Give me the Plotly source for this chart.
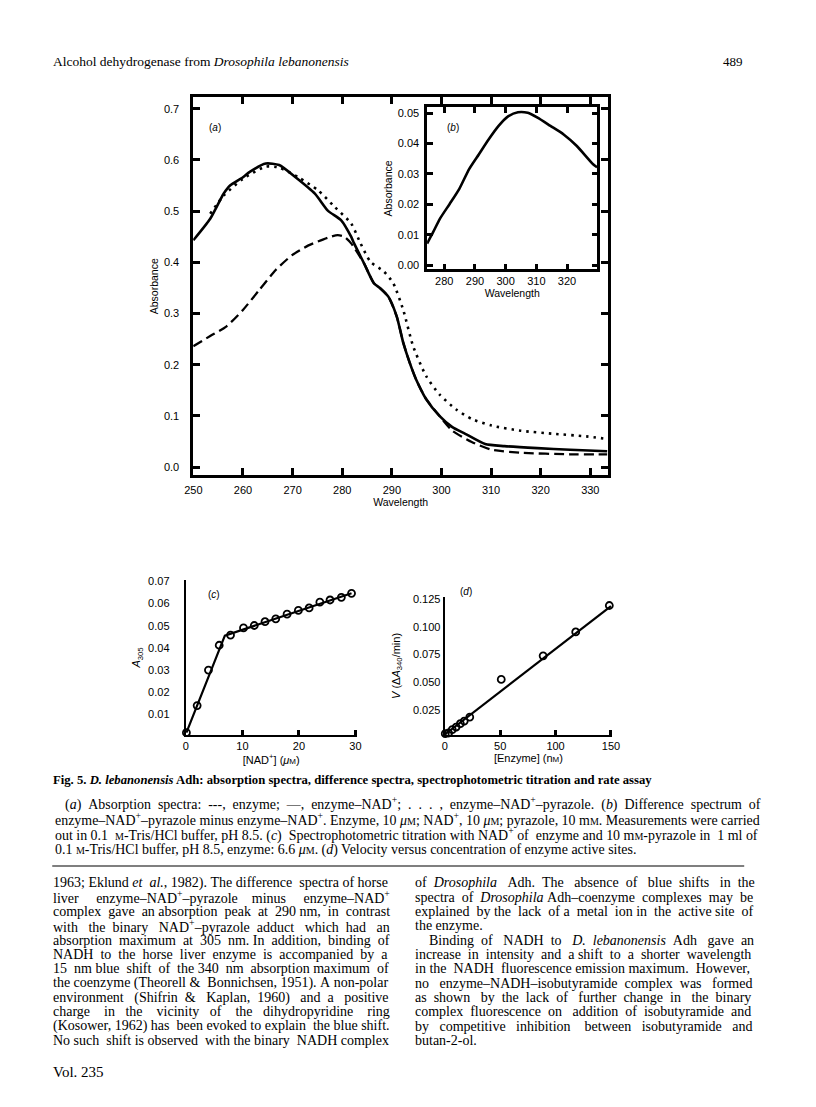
import re
import plotly.graph_objects as go

# ---------------- data ----------------
wl_enzyme_nad = [250, 253.4, 256.1, 257.4, 260, 261.3, 264.6, 267.3, 270.6, 274.5, 277.1, 279.8, 281.8,
                 282.4, 284.4, 286.4, 287.7, 289.3, 291, 292.3, 293.6, 294.9, 296.9, 299.6, 302.2,
                 304.8, 308.8, 312.7, 319.3, 325.9, 333.4]
abs_enzyme_nad = [0.443, 0.485, 0.534, 0.550, 0.566, 0.576, 0.593, 0.590, 0.566, 0.534, 0.501, 0.482, 0.45,
                  0.437, 0.398, 0.359, 0.349, 0.333, 0.294, 0.243, 0.204, 0.171, 0.133, 0.100, 0.078,
                  0.065, 0.045, 0.041, 0.037, 0.034, 0.031]

wl_pyrazole = [253.4, 256.1, 260.0, 264.6, 267.3, 271.2, 275.2, 278.5, 281.8, 283.7, 285.7, 288.4,
               290.3, 292.3, 294.3, 296.9, 299.6, 302.9, 306.1, 310.1, 316.0, 322.6, 329.2, 333.4]
abs_pyrazole = [0.495, 0.53, 0.563, 0.587, 0.585, 0.566, 0.54, 0.508, 0.476, 0.437, 0.401, 0.382,
                0.359, 0.307, 0.236, 0.178, 0.142, 0.113, 0.094, 0.081, 0.071, 0.065, 0.060, 0.055]

wl_enzyme = [250, 253.4, 256.7, 260.0, 263.3, 266.6, 269.9, 273.2, 277.1, 279.1, 280.4, 281.8, 284.4,
             286.4, 287.7, 289.3, 291.0, 292.3, 293.6, 294.9, 296.9, 299.6, 302.2, 306.1, 310.1,
             316.0, 325.9, 333.4]
abs_enzyme = [0.236, 0.256, 0.275, 0.307, 0.346, 0.385, 0.414, 0.433, 0.448, 0.453, 0.45, 0.437, 0.398,
              0.359, 0.349, 0.333, 0.294, 0.243, 0.204, 0.171, 0.133, 0.100, 0.071, 0.049, 0.034,
              0.028, 0.025, 0.025]

wl_diff = [274.4, 276.4, 278.6, 281.8, 284.9, 288.1, 291.3, 294.5, 297.7, 300.9, 304.0, 307.2,
           310.4, 314.6, 318.9, 323.2, 328.5, 329.8]
abs_diff = [0.0071, 0.0109, 0.0153, 0.0202, 0.0251, 0.0316, 0.0365, 0.0414, 0.0458, 0.0490, 0.0503,
            0.0501, 0.0485, 0.0458, 0.0430, 0.0392, 0.0332, 0.0322]

nad_conc = [0.1, 2.0, 4.0, 5.9, 7.9, 10.2, 12.1, 14.0, 15.9, 17.9, 19.9, 21.8, 23.7, 25.5, 27.5, 29.3]
a305 = [0.0018, 0.0140, 0.0300, 0.0412, 0.0458, 0.0490, 0.0501, 0.0518, 0.0531, 0.0552, 0.0569,
        0.0580, 0.0606, 0.0616, 0.0628, 0.0646]
nad_fit_x = [0.1, 6.9, 29.3]
nad_fit_y = [0.0018, 0.0455, 0.0646]

enzyme_conc = [0.5, 3.5, 6.8, 10.3, 14.1, 17.6, 22.6, 51.0, 88.8, 118.2, 148.5]
velocity = [0.0033, 0.0039, 0.0069, 0.0093, 0.0123, 0.0147, 0.0183, 0.0525, 0.0739, 0.0955, 0.1195]
enz_fit_x = [0, 150]
enz_fit_y = [0.0025, 0.119]

ticks_a_x = [250, 260, 270, 280, 290, 300, 310, 320, 330]
ticks_a_y = [0.0, 0.1, 0.2, 0.3, 0.4, 0.5, 0.6, 0.7]
ticks_b_x = [280, 290, 300, 310, 320]
ticks_b_y = [0.00, 0.01, 0.02, 0.03, 0.04, 0.05]
ticks_c_x = [0, 10, 20, 30]
ticks_c_y = [0.01, 0.02, 0.03, 0.04, 0.05, 0.06, 0.07]
ticks_d_x = [0, 50, 100, 150]
ticks_d_y = [0.025, 0.050, 0.075, 0.100, 0.125]

# ---------------- page text ----------------
# '\x01' marks a small-capital M (molar), expanded to markup after justification
header_left = "Alcohol dehydrogenase from <i>Drosophila lebanonensis</i>"
header_right = "489"
fig_title = "<b>Fig. 5. <i>D. lebanonensis</i> Adh: absorption spectra, difference spectra, spectrophotometric titration and rate assay</b>"
caption_lines = [
    "(<i>a</i>) Absorption spectra: ---, enzyme; —, enzyme–NAD<sup>+</sup>; . . . , enzyme–NAD<sup>+</sup>–pyrazole. (<i>b</i>) Difference spectrum of",
    "enzyme–NAD<sup>+</sup>–pyrazole minus enzyme–NAD<sup>+</sup>. Enzyme, 10 <i>μ</i>\x01; NAD<sup>+</sup>, 10 <i>μ</i>\x01; pyrazole, 10 m\x01. Measurements were carried",
    "out in 0.1 \x01-Tris/HCl buffer, pH 8.5. (<i>c</i>) Spectrophotometric titration with NAD<sup>+</sup> of enzyme and 10 m\x01-pyrazole in 1 ml of",
    "0.1 \x01-Tris/HCl buffer, pH 8.5, enzyme: 6.6 <i>μ</i>\x01. (<i>d</i>) Velocity versus concentration of enzyme active sites.",
]
left_col = [
    "1963; Eklund <i>et al.</i>, 1982). The difference spectra of horse",
    "liver enzyme–NAD<sup>+</sup>–pyrazole minus enzyme–NAD<sup>+</sup>",
    "complex gave an absorption peak at 290 nm, in contrast",
    "with the binary NAD<sup>+</sup>–pyrazole adduct which had an",
    "absorption maximum at 305 nm. In addition, binding of",
    "NADH to the horse liver enzyme is accompanied by a",
    "15 nm blue shift of the 340 nm absorption maximum of",
    "the coenzyme (Theorell &amp; Bonnichsen, 1951). A non-polar",
    "environment (Shifrin &amp; Kaplan, 1960) and a positive",
    "charge in the vicinity of the dihydropyridine ring",
    "(Kosower, 1962) has been evoked to explain the blue shift.",
    "No such shift is observed with the binary NADH complex",
]
right_col = [
    "of <i>Drosophila</i> Adh. The absence of blue shifts in the",
    "spectra of <i>Drosophila</i> Adh–coenzyme complexes may be",
    "explained by the lack of a metal ion in the active site of",
    "the enzyme.",
    "Binding of NADH to <i>D. lebanonensis</i> Adh gave an",
    "increase in intensity and a shift to a shorter wavelength",
    "in the NADH fluorescence emission maximum. However,",
    "no enzyme–NADH–isobutyramide complex was formed",
    "as shown by the lack of further change in the binary",
    "complex fluorescence on addition of isobutyramide and",
    "by competitive inhibition between isobutyramide and",
    "butan-2-ol.",
]
footer = "Vol. 235"

# ---------------- helpers ----------------
# The page body has an 8px margin, so the figure is 800x1091 and page
# coordinates are shifted by 8px.
OFF = 8
PW, PH = 816 - 2 * OFF, 1107 - 2 * OFF
def px(x):
    return (x - OFF) / PW
def py(y):
    return 1 - (y - OFF) / PH

TIMES = {' ': 250, '\u00a0': 250, '!': 333, '&': 778, '(': 333, ')': 333, '+': 564, ',': 250, '-': 333,
         '.': 250, '/': 278, ':': 278, ';': 278, '–': 500, '—': 1000, 'μ': 500, 'Δ': 612,
         'A': 722, 'B': 667, 'C': 667, 'D': 722, 'E': 611, 'F': 556, 'G': 722, 'H': 722, 'I': 333,
         'J': 389, 'K': 722, 'L': 611, 'M': 889, 'N': 722, 'O': 722, 'P': 556, 'Q': 722, 'R': 667,
         'S': 556, 'T': 611, 'U': 722, 'V': 722, 'W': 944, 'X': 722, 'Y': 722, 'Z': 611,
         'a': 444, 'b': 500, 'c': 444, 'd': 500, 'e': 444, 'f': 333, 'g': 500, 'h': 500, 'i': 278,
         'j': 278, 'k': 500, 'l': 278, 'm': 778, 'n': 500, 'o': 500, 'p': 500, 'q': 500, 'r': 333,
         's': 389, 't': 278, 'u': 500, 'v': 500, 'w': 722, 'x': 500, 'y': 500, 'z': 444}
for d in '0123456789':
    TIMES[d] = 500
SC_SCALE = 0.72

def twidth(s, size):
    w = 0.0
    scale = 1.0
    for t in re.split(r'(<[^>]+>)', s):
        if t.startswith('<'):
            if t in ('<sup>', '<sub>'):
                scale = 0.7
            elif t in ('</sup>', '</sub>'):
                scale = 1.0
            continue
        t = t.replace('&amp;', '&')
        for ch in t:
            if ch == '\x01':
                w += 889 * SC_SCALE
            else:
                w += TIMES.get(ch, 500) * scale
    return w * size / 1000.0

def sc_markup(s, size):
    return s.replace('\x01', '<span style="font-size:%.1fpx">M</span>' % (size * SC_SCALE))

NB = '\u00a0'
def justify(s, width, size):
    words = s.split(' ')
    nat = twidth(s, size)
    g = len(words) - 1
    if nat >= width:
        return NB.join(words), size * width / nat
    n = int(round((width - nat) / (0.25 * size)))
    out = words[0]
    acc = 0
    for i, wd in enumerate(words[1:]):
        target = round(n * (i + 1) / g)
        out += NB * (1 + target - acc) + wd
        acc = target
    return out, size

SERIF = "Liberation Serif"
SANS = "Liberation Sans"

fig = go.Figure()

# ---------------- traces ----------------
fig.add_trace(go.Scatter(x=wl_enzyme, y=abs_enzyme, mode='lines', line=dict(color='black', width=2.3, dash='10px,5px', shape='spline', smoothing=0.6), xaxis='x', yaxis='y'))
fig.add_trace(go.Scatter(x=wl_pyrazole, y=abs_pyrazole, mode='lines', line=dict(color='black', width=2.6, dash='2.5px,5px', shape='spline', smoothing=0.6), xaxis='x', yaxis='y'))
fig.add_trace(go.Scatter(x=wl_enzyme_nad, y=abs_enzyme_nad, mode='lines', line=dict(color='black', width=2.6, shape='spline', smoothing=0.6), xaxis='x', yaxis='y'))
fig.add_trace(go.Scatter(x=wl_diff, y=abs_diff, mode='lines', line=dict(color='black', width=2.6, shape='spline', smoothing=0.6), xaxis='x2', yaxis='y2'))
fig.add_trace(go.Scatter(x=nad_fit_x, y=nad_fit_y, mode='lines', line=dict(color='black', width=2.2), xaxis='x3', yaxis='y3'))
fig.add_trace(go.Scatter(x=nad_conc, y=a305, mode='markers', marker=dict(symbol='circle-open', size=7, color='black', line=dict(width=1.8, color='black')), xaxis='x3', yaxis='y3', cliponaxis=False))
fig.add_trace(go.Scatter(x=enz_fit_x, y=enz_fit_y, mode='lines', line=dict(color='black', width=2.2), xaxis='x4', yaxis='y4'))
fig.add_trace(go.Scatter(x=enzyme_conc, y=velocity, mode='markers', marker=dict(symbol='circle-open', size=7, color='black', line=dict(width=1.8, color='black')), xaxis='x4', yaxis='y4', cliponaxis=False))

# ---------------- axes ----------------
tickfont = dict(family=SANS, size=11, color='black')
titlefont = dict(family=SANS, size=10.5, color='black')
common = dict(showgrid=False, zeroline=False, showline=True, linecolor='black', color='black', tickfont=tickfont)
SCA = '<span style="font-size:8px">M</span>'

fig.update_layout(
    xaxis=dict(common, domain=[px(188), px(612)], range=[249.97, 333.6], tickvals=ticks_a_x, ticks='inside', ticklen=7, tickwidth=2.5, linewidth=2.5, mirror='ticks', anchor='y',
               ticklabelstandoff=3, title=dict(text='Wavelength', font=titlefont, standoff=2)),
    yaxis=dict(common, domain=[py(473), py(93)], range=[-0.0155, 0.722], tickvals=ticks_a_y, tickformat='.1f', ticks='inside', ticklen=7, tickwidth=2.5, linewidth=2.5, mirror='ticks', anchor='x',
               ticklabelstandoff=9, title=dict(text='Absorbance', font=titlefont, standoff=4)),
    xaxis2=dict(common, domain=[px(427), px(601)], range=[274.4, 329.9], tickvals=ticks_b_x, ticks='inside', ticklen=6, tickwidth=2.5, linewidth=2.5, mirror='ticks', anchor='y2',
                title=dict(text='Wavelength', font=titlefont, standoff=3)),
    yaxis2=dict(common, domain=[py(266), py(103)], range=[-0.0014, 0.0519], tickvals=ticks_b_y, tickformat='.2f', ticks='inside', ticklen=6, tickwidth=2.5, linewidth=2.5, mirror='ticks', anchor='x2',
                ticklabelstandoff=3, title=dict(text='Absorbance', font=titlefont, standoff=4)),
    xaxis3=dict(common, domain=[px(180.5), px(355)], range=[0, 30.2], tickvals=ticks_c_x, ticks='inside', ticklen=5, tickwidth=3, linewidth=2.2, anchor='y3',
                title=dict(text='[NAD<sup>+</sup>] (<i>μ</i>' + SCA + ')', font=dict(family=SANS, size=11, color='black'), standoff=0)),
    yaxis3=dict(common, domain=[py(734.3), py(578.9)], range=[0.0009, 0.0705], tickvals=ticks_c_y, tickformat='.2f', ticks='', linewidth=2.2, anchor='x3',
                ticklabelstandoff=12, title=dict(text='<i>A</i><sub>305</sub>', font=dict(family=SANS, size=11, color='black'), standoff=5)),
    xaxis4=dict(common, domain=[px(445), px(616)], range=[0, 151], tickvals=ticks_d_x, ticks='inside', ticklen=5, tickwidth=3, linewidth=2.2, anchor='y4',
                title=dict(text='[Enzyme] (n' + SCA + ')', font=dict(family=SANS, size=11, color='black'), standoff=1)),
    yaxis4=dict(common, domain=[py(734.3), py(596)], range=[0.0024, 0.127], tickvals=ticks_d_y, tickformat='.3f', ticks='', linewidth=2.2, anchor='x4',
                title=dict(text='<i>V</i> (Δ<i>A</i><sub>340</sub>/min)', font=dict(family=SANS, size=11, color='black'), standoff=10)),
)

# ---------------- annotations ----------------
ann = []
def text(x, y, s, size, family=SERIF, anchor='left'):
    ann.append(dict(x=px(x), y=py(y), xref='paper', yref='paper', xanchor=anchor, yanchor='middle', text=s,
                    showarrow=False, font=dict(family=family, size=size, color='black'), borderpad=0))

for xr, yr, xv, yv, lab in [('x', 'y', 252.8, 0.663, '(<i>a</i>)'), ('x2', 'y2', 280.2, 0.0452, '(<i>b</i>)'),
                            ('x3', 'y3', 3.5, 0.064, '(<i>c</i>)')]:
    ann.append(dict(x=xv, y=yv, xref=xr, yref=yr, text=lab, showarrow=False, xanchor='left', yanchor='middle',
                    font=dict(family=SANS, size=10, color='black')))
# (d) sits above the top of its y axis, so it is placed on the page
text(460, 590, '(<i>d</i>)', 10, family=SANS)

text(44, 57, header_left, 13.5)
text(751, 57, header_right, 13, anchor='right')
text(44, 780, fig_title, 12.7)

CAP = 14
cap_y = [803.5, 819, 834.5, 850]
cap_x = [56, 46, 46, 46]
cap_sz = CAP
for i in range(3):
    nat = twidth(caption_lines[i], CAP)
    cap_sz = min(cap_sz, CAP * (751 - cap_x[i]) / nat)
for i, line in enumerate(caption_lines):
    if i < 3:
        s, sz = justify(line, 751 - cap_x[i], cap_sz)
    else:
        s, sz = line, cap_sz
    text(cap_x[i], cap_y[i], sc_markup(s, sz), sz)

BODY = 14
body_y0, body_dy = 883.3, 14.45
for i, line in enumerate(left_col):
    s, sz = justify(line, 380 - 44, BODY)
    text(44, body_y0 + i * body_dy, s, sz)
for i, line in enumerate(right_col):
    x0 = 428 if i == 4 else 414
    if i in (3, 11):
        s, sz = line, BODY
    else:
        s, sz = justify(line, 751 - x0, BODY)
    text(x0, body_y0 + i * body_dy, s, sz)

text(44, 1074, footer, 15)

shapes = [dict(type='line', xref='paper', yref='paper', x0=px(44), x1=px(751), y0=py(866.5), y1=py(866.5),
               line=dict(color='black', width=1.2))]

fig.update_layout(
    width=PW, height=PH, margin=dict(l=0, r=0, t=0, b=0),
    paper_bgcolor='white', plot_bgcolor='rgba(0,0,0,0)', showlegend=False,
    annotations=ann, shapes=shapes,
)

fig.write_html("out.html")
